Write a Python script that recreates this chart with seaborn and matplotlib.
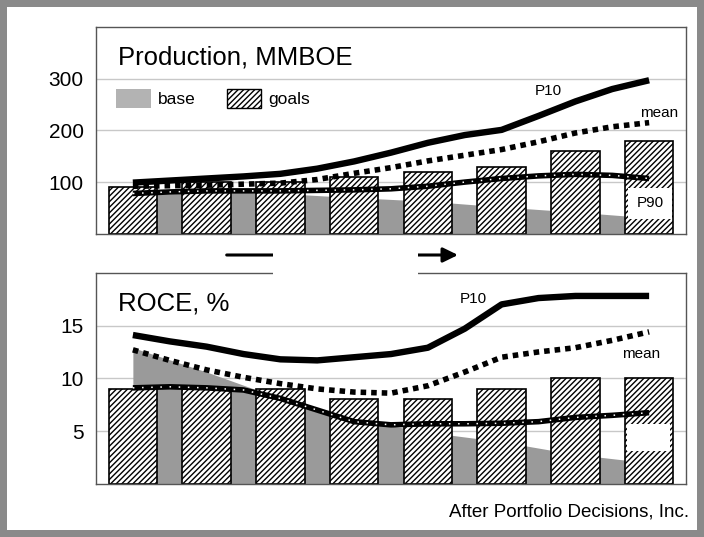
import matplotlib
matplotlib.use('Agg')
import matplotlib.pyplot as plt
from matplotlib.patches import Patch, Rectangle, FancyArrowPatch
import numpy as np
import pandas as pd
import seaborn as sns

'''Production and ROCE outlook: goal bars over a declining base, with P10 / mean / P90 curves'''

periods = [1, 2, 3, 4, 5, 6, 7, 8]

# Production, MMBOE
prod_goals = [90, 100, 100, 110, 120, 130, 160, 180]
prod_base = [74, 80, 78, 70, 63, 52, 42, 31]
prod_p10 = [99, 103, 107, 111, 116, 126, 140, 157, 176, 191, 201, 228, 256, 280, 297]
prod_mean = [92, 93, 94, 96, 98, 105, 117, 128, 141, 152, 163, 178, 195, 207, 215]
prod_p90 = [78, 81, 83, 83, 83, 84, 85, 87, 92, 100, 107, 112, 115, 113, 107]

# ROCE, %
roce_goals = [9, 9, 9, 8, 8, 9, 10, 10]
roce_base = [12.9, 10.6, 8.1, 6.1, 4.9, 4.0, 2.8, 2.0]
roce_p10 = [14.1, 13.5, 13.0, 12.3, 11.8, 11.7, 12.0, 12.3, 12.9, 14.7, 17.0, 17.6, 17.8, 17.8, 17.8]
roce_mean = [12.7, 11.7, 10.8, 10.1, 9.5, 9.0, 8.7, 8.6, 9.3, 10.6, 12.0, 12.5, 12.9, 13.6, 14.4]
roce_p90 = [9.1, 9.2, 9.1, 8.9, 8.1, 7.0, 5.9, 5.6, 5.7, 5.7, 5.75, 5.9, 6.3, 6.5, 6.75]

half_steps = np.arange(len(prod_p10)) / 2

BASE_GRAY = '#9a9a9a'
LEGEND_GRAY = '#b3b3b3'
HATCH = '//////'

sns.set_theme(style='white')
plt.rcParams['font.family'] = ['Liberation Sans', 'DejaVu Sans']
plt.rcParams['text.color'] = 'black'
plt.rcParams['hatch.linewidth'] = 1.0


def draw_panel(ax, goals, base, p10, mean, p90, ylim, yticks, title):
    ax.fill_between(np.arange(len(base)), base, color=BASE_GRAY, lw=0, zorder=1)
    sns.barplot(x=periods, y=goals, ax=ax, color='white', saturation=1, edgecolor='black',
                linewidth=1.2, width=0.66, hatch=HATCH, errorbar=None, zorder=2)
    sns.lineplot(x=half_steps, y=p10, ax=ax, color='black', lw=4.6, zorder=4,
                 solid_joinstyle='round', solid_capstyle='butt')
    sns.lineplot(x=half_steps, y=mean, ax=ax, color='black', lw=4, linestyle=(0, (1, 0.9)), zorder=4)
    sns.lineplot(x=half_steps, y=p90, ax=ax, color='black', lw=4, zorder=4,
                 solid_joinstyle='round', solid_capstyle='butt')
    sns.lineplot(x=half_steps, y=p90, ax=ax, color='white', lw=1.1, linestyle=(0, (1, 5)), zorder=5)

    ax.set_xlim(-0.5, 7.5)
    ax.set_ylim(*ylim)
    ax.set_yticks(yticks)
    ax.set_xticks([])
    ax.set(xlabel='', ylabel='')
    ax.set_axisbelow(True)
    ax.yaxis.grid(True, color='#c8c8c8', lw=1)
    ax.tick_params(axis='y', length=0, pad=9, labelsize=15, labelcolor='black')
    for s in ax.spines.values():
        s.set_color('#555555')
        s.set_linewidth(1)
    ax.text(0.037, 0.82, title, transform=ax.transAxes, fontsize=18.5, va='baseline', ha='left')


fig = plt.figure(figsize=(7.04, 5.37), dpi=100)
fig.patch.set_facecolor('#8a8a8a')
fig.add_artist(Rectangle((7 / 704, 7 / 537), 690 / 704, 523 / 537, transform=fig.transFigure,
                         facecolor='white', edgecolor='none', zorder=-10))

ax1 = fig.add_axes([96 / 704, (537 - 233.8) / 537, 590 / 704, 206.8 / 537])
ax2 = fig.add_axes([96 / 704, 53 / 537, 590 / 704, 211.3 / 537])

draw_panel(ax1, prod_goals, prod_base, prod_p10, prod_mean, prod_p90, (0, 400), [100, 200, 300],
           'Production, MMBOE')
draw_panel(ax2, roce_goals, roce_base, roce_p10, roce_mean, roce_p90, (0, 20), [5, 10, 15],
           'ROCE, %')

# legend (top panel only)
handles = [Patch(facecolor=LEGEND_GRAY, edgecolor='none', label='base'),
           Patch(facecolor='white', edgecolor='black', hatch=HATCH, label='goals')]
ax1.legend(handles=handles, loc='upper left', bbox_to_anchor=(0.034, 0.70), ncol=2, frameon=False,
           fontsize=12.5, handlelength=2.0, handleheight=1.3, handletextpad=0.4,
           columnspacing=1.8, borderpad=0, borderaxespad=0)

# curve labels
ax1.text(5.63, 276, 'P10', fontsize=11, ha='center', va='center', zorder=6)
ax1.text(7.13, 233, 'mean', fontsize=11, ha='center', va='center', zorder=6)
ax1.text(7.01, 59, 'P90', fontsize=11, ha='center', va='center', zorder=6,
         bbox=dict(boxstyle='square,pad=0.55', facecolor='white', edgecolor='none'))
ax2.text(4.61, 17.5, 'P10', fontsize=11, ha='center', va='center', zorder=6)
ax2.text(6.89, 12.3, 'mean', fontsize=11, ha='center', va='center', zorder=6)
ax2.add_patch(Rectangle((6.7, 3.1), 0.58, 2.6, facecolor='white', edgecolor='none', zorder=6))

# time arrow between the panels, its label blanked out
y_arr = 1 - 255 / 537
fig.add_artist(FancyArrowPatch((226.7 / 704, y_arr), (458 / 704, y_arr), transform=fig.transFigure,
                               arrowstyle='-|>,head_length=0.45,head_width=0.22', mutation_scale=20,
                               lw=2.2, color='black', shrinkA=0, shrinkB=0, zorder=3))
fig.add_artist(Rectangle((272.7 / 704, (537 - 274.5) / 537), (418 - 272.7) / 704, 34 / 537,
                         transform=fig.transFigure, facecolor='white', edgecolor='none', zorder=4))

fig.text(689 / 704, 1 - 512 / 537, 'After Portfolio Decisions, Inc.', fontsize=13.5, ha='right', va='center')

fig.savefig('out.png', dpi=100)
